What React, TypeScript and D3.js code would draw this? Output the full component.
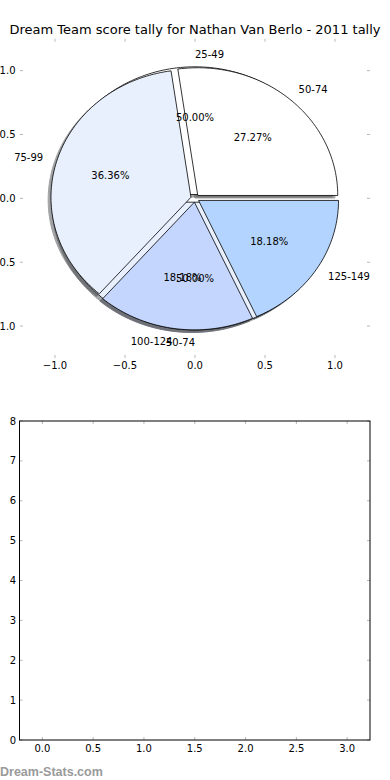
import React from "react";
import * as d3 from "d3";

// ---- data ----
const pieLabels = ["50-74", "75-99", "100-124", "125-149"];
const pieCounts = [3, 4, 2, 2];
const overlayLabels = ["25-49", "50-74"];
const overlayCounts = [1, 1];
const wedgeColors = ["#ffffff", "#e8f0fe", "#c4d6fe", "#b3d4fe"];
const explodeAmount = 0.03;
const pieTicks = [-1, -0.5, 0, 0.5, 1];
const barXTicks = [0, 0.5, 1, 1.5, 2, 2.5, 3];
const barYTicks = [0, 1, 2, 3, 4, 5, 6, 7, 8];
const title = "Dream Team score tally for Nathan Van Berlo - 2011 tally";
const watermark = "Dream-Stats.com";

const FONT = "DejaVu Sans, Verdana, sans-serif";

// pie axes
const PA = { left: 20, right: 370, top: 38.7, bottom: 358 };
const px = d3.scaleLinear().domain([-1.25, 1.25]).range([PA.left, PA.right]);
const py = d3.scaleLinear().domain([-1.25, 1.25]).range([PA.bottom, PA.top]);

// bar axes
const BA = { left: 19.5, right: 370, top: 421, bottom: 740 };
const bx = d3.scaleLinear().domain([-0.225, 3.225]).range([BA.left, BA.right]);
const by = d3.scaleLinear().domain([0, 8]).range([BA.bottom, BA.top]);

const line = d3.line<[number, number]>().x((d) => px(d[0])).y((d) => py(d[1]));

function wedgePath(cx: number, cy: number, t1: number, t2: number) {
  const n = Math.max(8, Math.ceil(((t2 - t1) / (2 * Math.PI)) * 240));
  const pts: [number, number][] = [[cx, cy]];
  for (let i = 0; i <= n; i++) {
    const t = t1 + ((t2 - t1) * i) / n;
    pts.push([cx + Math.cos(t), cy + Math.sin(t)]);
  }
  pts.push([cx, cy]);
  return line(pts) + "Z";
}

type Wedge = {
  label: string;
  pct: string;
  color: string;
  t1: number;
  t2: number;
  cx: number;
  cy: number;
  tm: number;
};

function buildPie(labels: string[], counts: number[]): Wedge[] {
  const total = d3.sum(counts);
  const arcs = d3
    .pie<number>()
    .sort(null)
    .startAngle(0)
    .endAngle(2 * Math.PI)(counts);
  return arcs.map((a, i) => {
    const tm = (a.startAngle + a.endAngle) / 2;
    return {
      label: labels[i],
      pct: d3.format(".2f")((counts[i] / total) * 100) + "%",
      color: wedgeColors[i % wedgeColors.length],
      t1: a.startAngle,
      t2: a.endAngle,
      cx: explodeAmount * Math.cos(tm),
      cy: explodeAmount * Math.sin(tm),
      tm,
    };
  });
}

function shadowColor(c: string) {
  const r = d3.rgb(c);
  return d3.rgb(r.r * 0.3, r.g * 0.3, r.b * 0.3).formatHex();
}

const fmt1 = d3.format(".1f");

export default function App() {
  const pieB = buildPie(overlayLabels, overlayCounts);
  const pieA = buildPie(pieLabels, pieCounts);
  const all = [...pieB, ...pieA];

  const tickColor = "#b8b8b8";

  return (
    <svg
      width={390}
      height={780}
      style={{ position: "absolute", left: 0, top: 0, background: "#fff" }}
      fontFamily={FONT}
    >
      <rect x={0} y={0} width={390} height={780} fill="#fff" />
      {/* title */}
      <text x={195} y={34} textAnchor="middle" fontSize={13} fill="#000">
        {title}
      </text>

      {/* pie axes ticks */}
      <g stroke={tickColor} strokeWidth={1}>
        {pieTicks.map((t) => (
          <g key={"pt" + t}>
            <line x1={px(t)} x2={px(t)} y1={PA.bottom} y2={PA.bottom - 3} />
            <line x1={px(t)} x2={px(t)} y1={PA.top} y2={PA.top + 3} />
            <line x1={PA.left} x2={PA.left + 3} y1={py(t)} y2={py(t)} />
            <line x1={PA.right} x2={PA.right - 3} y1={py(t)} y2={py(t)} />
          </g>
        ))}
      </g>
      <g fontSize={10} fill="#000">
        {pieTicks.map((t) => (
          <text key={"px" + t} x={px(t)} y={369} textAnchor="middle">
            {fmt1(t)}
          </text>
        ))}
        {pieTicks.map((t) => (
          <text key={"py" + t} x={15.5} y={py(t)} textAnchor="end" dominantBaseline="central">
            {fmt1(t)}
          </text>
        ))}
      </g>

      {/* shadows */}
      <g>
        {all.map((w, i) => (
          <path
            key={"s" + i}
            d={wedgePath(w.cx - 0.02, w.cy - 0.02, w.t1, w.t2)}
            fill={shadowColor(w.color)}
            stroke={shadowColor(w.color)}
            strokeWidth={1}
            opacity={0.5}
          />
        ))}
      </g>
      {/* wedges: overlay pie first, then main pie on top */}
      <g>
        {all.map((w, i) => (
          <path
            key={"w" + i}
            d={wedgePath(w.cx, w.cy, w.t1, w.t2)}
            fill={w.color}
            stroke="#000"
            strokeWidth={0.8}
            strokeLinejoin="round"
          />
        ))}
      </g>
      {/* labels */}
      <g fontSize={10} fill="#000">
        {all.map((w, i) => {
          const r = 1.1;
          const lx = w.cx + r * Math.cos(w.tm);
          const ly = w.cy + r * Math.sin(w.tm);
          return (
            <text
              key={"l" + i}
              x={px(lx)}
              y={py(ly)}
              textAnchor={lx > 0 ? "start" : "end"}
              dominantBaseline="central"
            >
              {w.label}
            </text>
          );
        })}
        {all.map((w, i) => {
          const r = 0.6;
          const lx = w.cx + r * Math.cos(w.tm);
          const ly = w.cy + r * Math.sin(w.tm);
          return (
            <text
              key={"p" + i}
              x={px(lx)}
              y={py(ly)}
              textAnchor="middle"
              dominantBaseline="central"
            >
              {w.pct}
            </text>
          );
        })}
      </g>

      {/* bottom (empty) axes */}
      <g stroke={tickColor} strokeWidth={1}>
        {barXTicks.map((t) => (
          <g key={"bxt" + t}>
            <line x1={bx(t)} x2={bx(t)} y1={BA.bottom} y2={BA.bottom - 3} />
            <line x1={bx(t)} x2={bx(t)} y1={BA.top} y2={BA.top + 3} />
          </g>
        ))}
        {barYTicks.map((t) => (
          <g key={"byt" + t}>
            <line x1={BA.left} x2={BA.left + 3} y1={by(t)} y2={by(t)} />
            <line x1={BA.right} x2={BA.right - 3} y1={by(t)} y2={by(t)} />
          </g>
        ))}
      </g>
      <rect
        x={BA.left}
        y={BA.top}
        width={BA.right - BA.left}
        height={BA.bottom - BA.top}
        fill="none"
        stroke="#000"
        strokeWidth={1}
      />
      <g fontSize={10} fill="#000">
        {barXTicks.map((t) => (
          <text key={"bxl" + t} x={bx(t)} y={752} textAnchor="middle">
            {fmt1(t)}
          </text>
        ))}
        {barYTicks.map((t) => (
          <text key={"byl" + t} x={16} y={by(t)} textAnchor="end" dominantBaseline="central">
            {String(t)}
          </text>
        ))}
      </g>

      {/* watermark */}
      <text
        x={0}
        y={776}
        fontSize={12.5}
        fontWeight="bold"
        fontFamily="Liberation Sans, Arial, sans-serif"
        fill="#9a9a9a"
      >
        {watermark}
      </text>
    </svg>
  );
}
